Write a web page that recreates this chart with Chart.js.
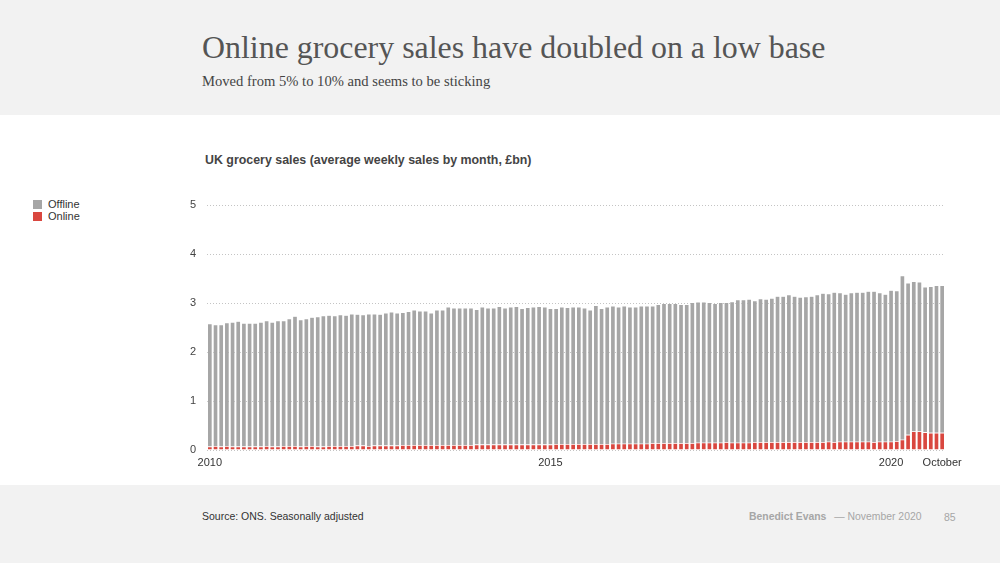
<!DOCTYPE html>
<html>
<head>
<meta charset="utf-8">
<script src="https://cdn.jsdelivr.net/npm/chart.js@4"></script>
<style>
  html, body { margin: 0; padding: 0; }
  body { width: 1000px; height: 563px; background: #f2f2f2; position: relative; overflow: hidden; font-family: "Liberation Sans", Arial, sans-serif; }
  #head { position: absolute; left: 0; top: 0; width: 1000px; height: 115px; background: #f2f2f2; }
  #title { position: absolute; left: 202px; top: 30px; font-family: "Liberation Serif", serif; font-size: 31.9px; color: #555; white-space: nowrap; }
  #subtitle { position: absolute; left: 202px; top: 73px; font-family: "Liberation Serif", serif; font-size: 14.6px; color: #444; white-space: nowrap; }
  #panel { position: absolute; left: 0; top: 115px; width: 1000px; height: 370px; background: #fff; }
  #chart-title { position: absolute; left: 205px; top: 153px; font-size: 12.4px; font-weight: bold; color: #444; white-space: nowrap; }
  #legend { position: absolute; left: 33px; top: 198px; font-size: 11px; color: #333; }
  .lg { height: 12px; line-height: 12px; white-space: nowrap; }
  .lg i { display: inline-block; width: 9px; height: 9px; margin-right: 6px; vertical-align: -1px; }
  #wrap { position: absolute; left: 0; top: 115px; width: 1000px; height: 370px; }
  #source { position: absolute; left: 202px; top: 510px; font-size: 10.5px; color: #333; white-space: nowrap; }
  #credit { position: absolute; left: 749px; top: 511px; font-size: 10.4px; color: #a6a6a6; white-space: nowrap; }
  #credit b { margin-right: 5px; }
  #page { position: absolute; left: 944px; top: 511px; font-size: 10.5px; color: #a6a6a6; }
</style>
</head>
<body>
<div id="head">
  <div id="title">Online grocery sales have doubled on a low base</div>
  <div id="subtitle">Moved from 5% to 10% and seems to be sticking</div>
</div>
<div id="panel"></div>
<div id="chart-title">UK grocery sales (average weekly sales by month, £bn)</div>
<div id="legend">
  <div class="lg"><i style="background:#a6a6a6"></i>Offline</div>
  <div class="lg"><i style="background:#d9473f"></i>Online</div>
</div>
<div id="wrap"><canvas id="salesChart"></canvas></div>
<div id="source">Source: ONS. Seasonally adjusted</div>
<div id="credit"><b>Benedict Evans</b> — November 2020</div>
<div id="page">85</div>

<script>
// monthly, Jan 2010 - Oct 2020 (£bn, average weekly)
const monthNames = ['Jan', 'Feb', 'Mar', 'Apr', 'May', 'Jun', 'Jul', 'Aug', 'Sep', 'Oct', 'Nov', 'Dec'];
const years = [2010, 2011, 2012, 2013, 2014, 2015, 2016, 2017, 2018, 2019, 2020];

const online = [
  0.07, 0.08, 0.07, 0.08, 0.07, 0.07, 0.07, 0.07, 0.07, 0.07, 0.08, 0.07,
  0.07, 0.08, 0.08, 0.08, 0.07, 0.08, 0.08, 0.07, 0.07, 0.08, 0.08, 0.08,
  0.08, 0.08, 0.09, 0.09, 0.08, 0.09, 0.09, 0.09, 0.09, 0.09, 0.10, 0.10,
  0.10, 0.10, 0.10, 0.10, 0.10, 0.10, 0.10, 0.10, 0.10, 0.10, 0.10, 0.11,
  0.11, 0.11, 0.11, 0.11, 0.11, 0.11, 0.11, 0.11, 0.11, 0.11, 0.11, 0.11,
  0.11, 0.12, 0.12, 0.12, 0.12, 0.12, 0.12, 0.12, 0.12, 0.12, 0.12, 0.13,
  0.13, 0.13, 0.13, 0.13, 0.13, 0.13, 0.14, 0.14, 0.14, 0.14, 0.14, 0.14,
  0.14, 0.14, 0.15, 0.15, 0.15, 0.15, 0.15, 0.16, 0.15, 0.15, 0.15, 0.15,
  0.16, 0.16, 0.16, 0.16, 0.16, 0.16, 0.16, 0.16, 0.16, 0.16, 0.16, 0.16,
  0.16, 0.17, 0.16, 0.17, 0.17, 0.17, 0.17, 0.17, 0.17, 0.16, 0.17, 0.17,
  0.17, 0.18, 0.21, 0.31, 0.38, 0.38, 0.36, 0.35, 0.35, 0.35
];

const offline = [
  2.51, 2.48, 2.49, 2.52, 2.54, 2.56, 2.52, 2.52, 2.52, 2.54, 2.56, 2.54,
  2.57, 2.56, 2.60, 2.65, 2.59, 2.60, 2.63, 2.65, 2.67, 2.67, 2.66, 2.68,
  2.67, 2.70, 2.68, 2.67, 2.70, 2.69, 2.68, 2.71, 2.73, 2.71, 2.71, 2.73,
  2.76, 2.74, 2.74, 2.70, 2.76, 2.76, 2.82, 2.80, 2.80, 2.80, 2.80, 2.76,
  2.81, 2.79, 2.79, 2.82, 2.79, 2.81, 2.82, 2.78, 2.80, 2.81, 2.82, 2.81,
  2.78, 2.77, 2.80, 2.79, 2.80, 2.80, 2.78, 2.74, 2.83, 2.77, 2.80, 2.81,
  2.79, 2.81, 2.79, 2.79, 2.81, 2.81, 2.80, 2.83, 2.85, 2.85, 2.85, 2.83,
  2.83, 2.87, 2.87, 2.87, 2.86, 2.84, 2.86, 2.85, 2.88, 2.92, 2.92, 2.93,
  2.89, 2.93, 2.92, 2.94, 2.98, 2.98, 3.01, 2.98, 2.96, 2.97, 2.98, 3.01,
  3.04, 3.02, 3.06, 3.04, 3.01, 3.04, 3.05, 3.05, 3.07, 3.08, 3.04, 3.01,
  3.09, 3.07, 3.35, 3.10, 3.06, 3.05, 2.97, 2.99, 3.01, 3.01
];

// x-axis labels shown under given bars
const tickIndex = [0, 60, 120, 129];
const tickText = ['2010', '2015', '2020', 'October'];
const yTicks = [0, 1, 2, 3, 4, 5];

const categories = [];
years.forEach(y => monthNames.forEach(m => categories.push(m + ' ' + y)));
categories.length = online.length;

const ctx = document.getElementById('salesChart').getContext('2d');
new Chart(ctx, {
  type: 'bar',
  data: {
    labels: categories,
    datasets: [
      {
        label: 'Online',
        data: online,
        backgroundColor: '#d9473f',
        borderColor: 'rgba(255,255,255,0.45)',
        borderWidth: 0.6
      },
      {
        label: 'Offline',
        data: offline,
        backgroundColor: '#a6a6a6',
        borderColor: 'rgba(255,255,255,0.45)',
        borderWidth: 0.6
      }
    ]
  },
  options: {
    responsive: true,
    maintainAspectRatio: false,
    animation: false,
    layout: { padding: { left: 177, right: 55, top: 90, bottom: 0 } },
    datasets: { bar: { barPercentage: 1, categoryPercentage: 0.86 } },
    scales: {
      x: {
        stacked: true,
        grid: { display: false, drawTicks: false },
        border: { display: false },
        afterFit: s => { s.height = 35; },
        ticks: {
          autoSkip: false,
          maxRotation: 0,
          color: '#333',
          font: { family: 'Liberation Sans', size: 11 },
          padding: 6,
          callback: (v, i) => {
            const k = tickIndex.indexOf(i);
            return k >= 0 ? tickText[k] : null;
          }
        }
      },
      y: {
        stacked: true,
        min: 0,
        max: 5,
        afterFit: s => { s.width = 30; },
        afterBuildTicks: s => { s.ticks = yTicks.map(v => ({ value: v })); },
        border: { display: false, dash: [1, 2] },
        grid: {
          color: '#c4c4c4',
          lineWidth: 1,
          drawTicks: false
        },
        ticks: {
          color: '#444',
          font: { family: 'Liberation Sans', size: 11 },
          padding: 11
        }
      }
    },
    plugins: {
      legend: { display: false },
      tooltip: { enabled: false }
    }
  }
});
</script>
</body>
</html>
